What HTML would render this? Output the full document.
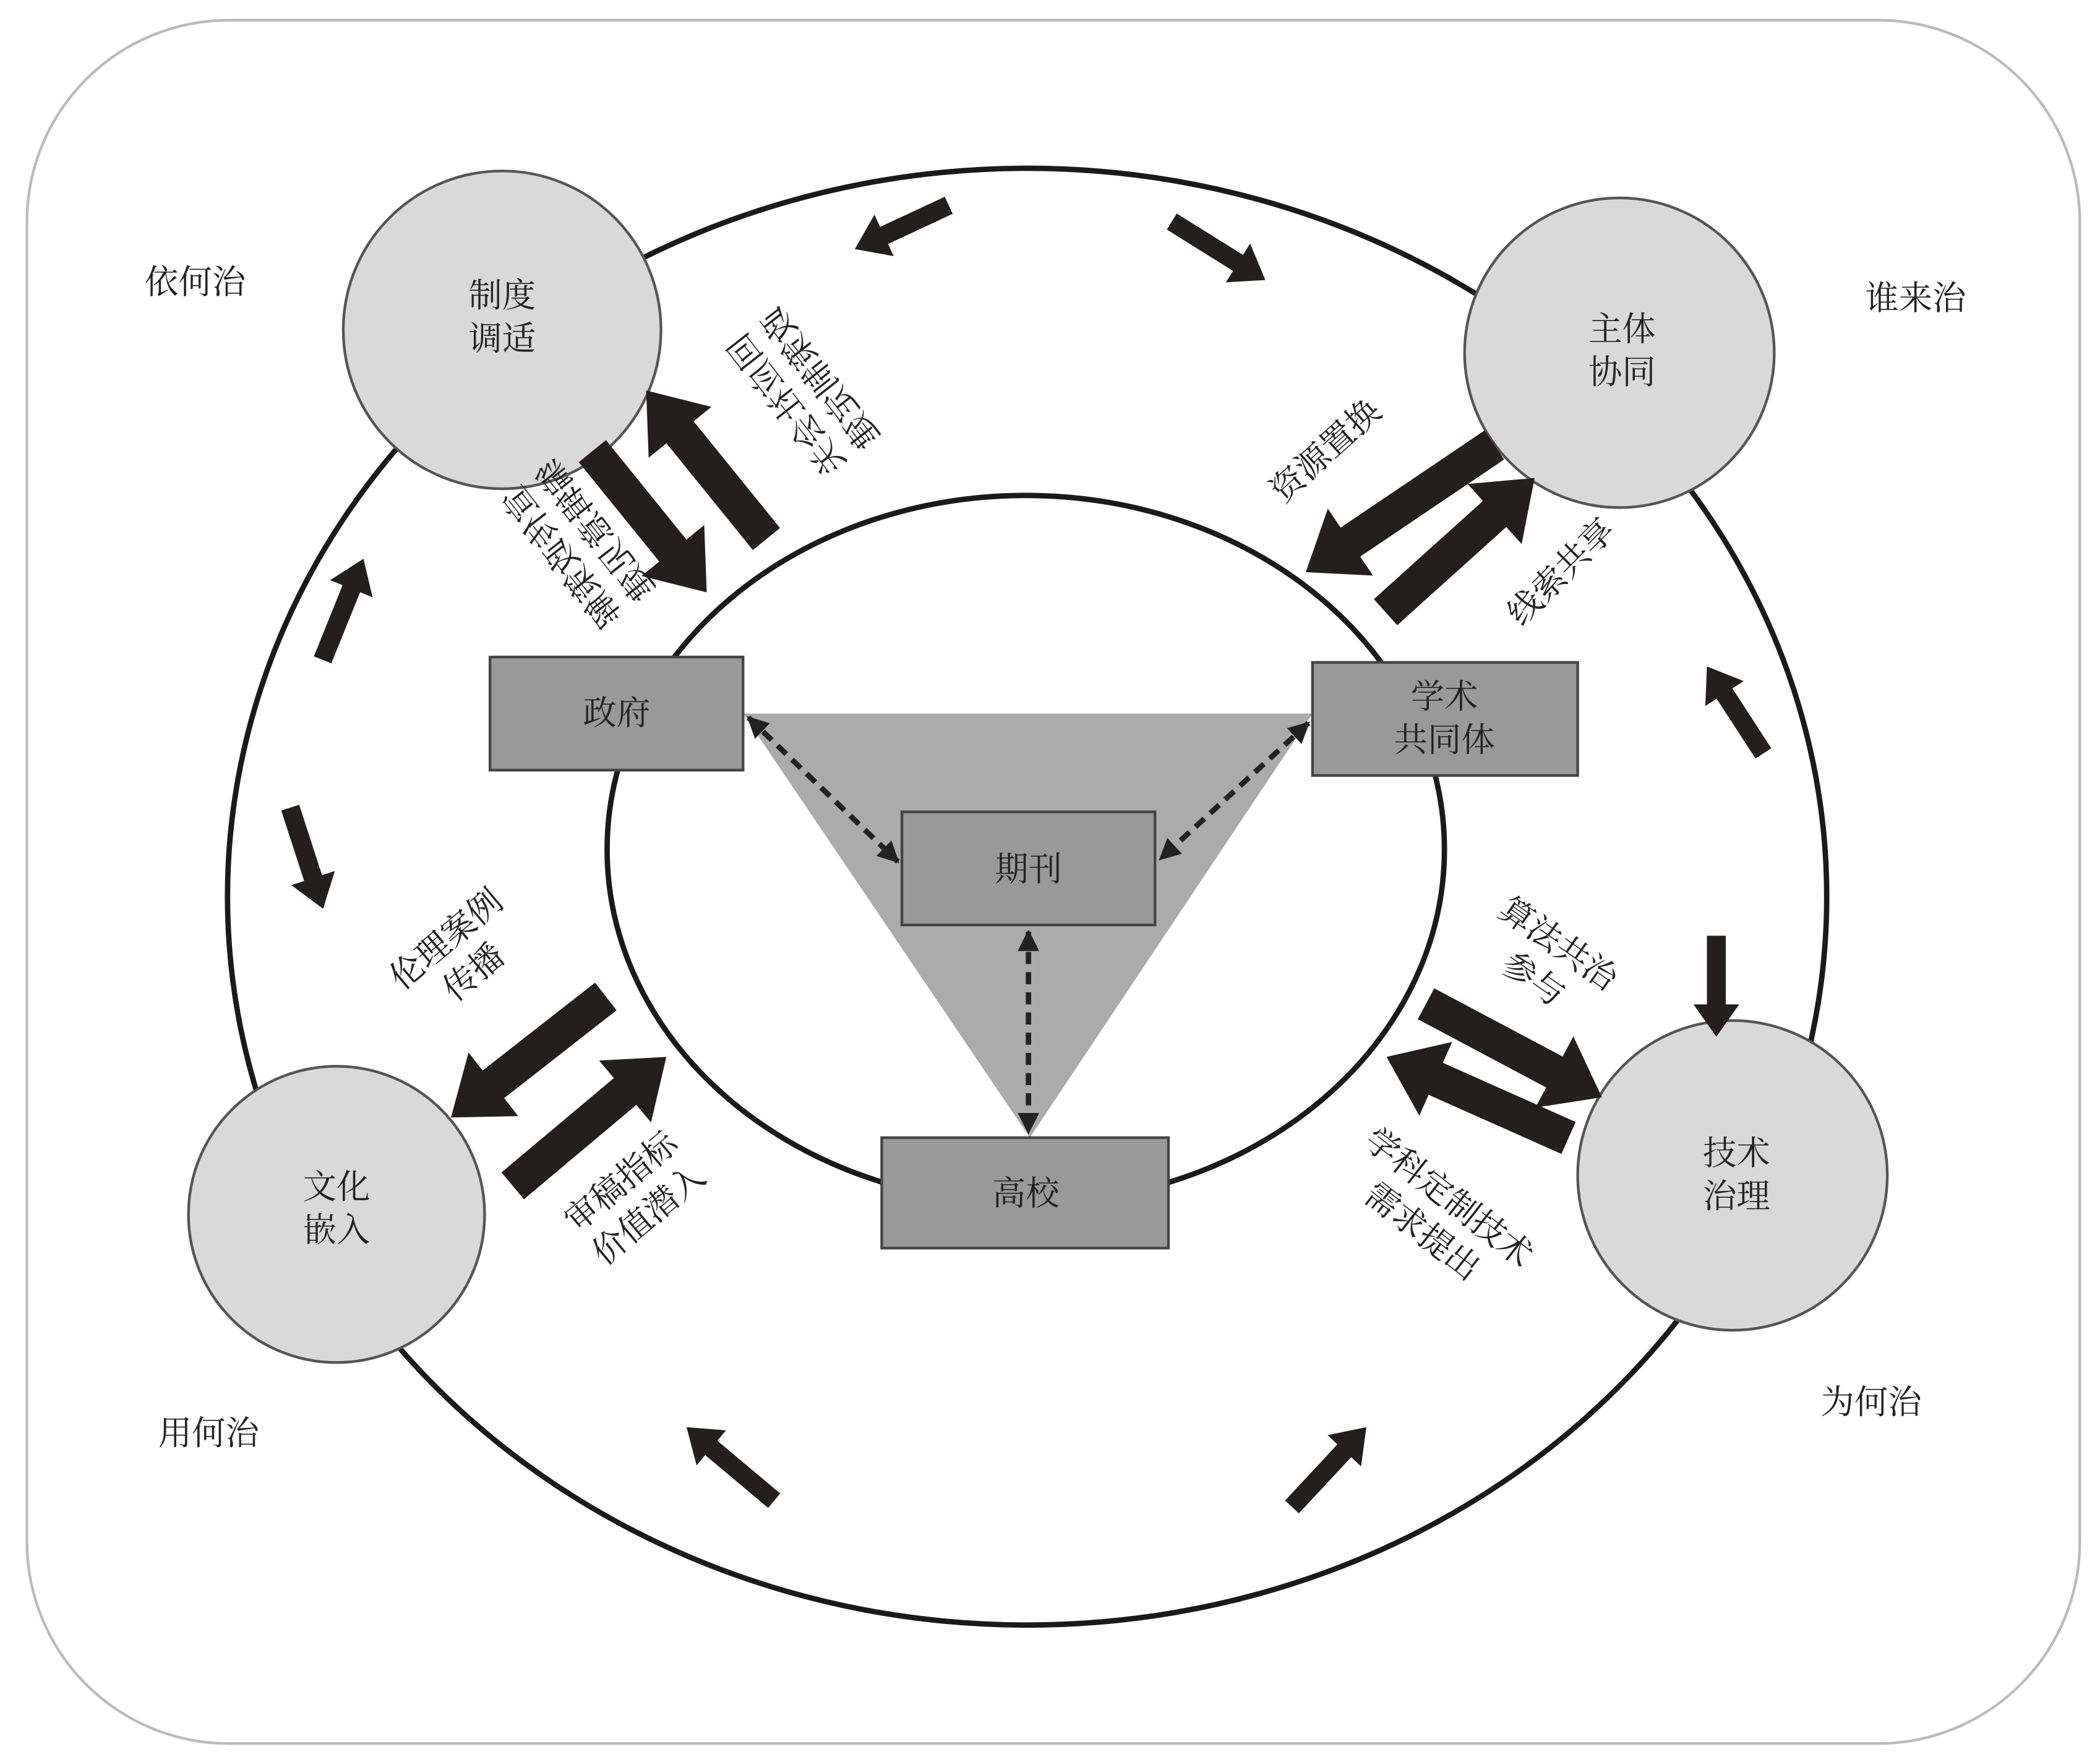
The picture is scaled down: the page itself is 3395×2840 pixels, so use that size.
<!DOCTYPE html>
<html><head><meta charset="utf-8"><style>
html,body{margin:0;padding:0;background:#fff;}
svg{display:block;}
text{font-family:"Liberation Serif","Noto Serif CJK SC",serif;font-size:25px;fill:#222;}
</style></head><body>
<svg width="3395" height="2840" viewBox="0 0 1560 1305" preserveAspectRatio="none" xmlns="http://www.w3.org/2000/svg">
<defs>
<marker id="ah" viewBox="0 0 10 10" refX="9" refY="5" markerWidth="4" markerHeight="4" orient="auto-start-reverse"><path d="M0,0 L10,5 L0,10 z" fill="#222"/></marker>
</defs>
<rect x="20" y="15" width="1525" height="1280" rx="150" ry="150" fill="#fff" stroke="#bbb" stroke-width="2"/>
<ellipse cx="763" cy="666" rx="594" ry="541" fill="none" stroke="#1a1a1a" stroke-width="4"/>
<ellipse cx="762" cy="631" rx="311" ry="263" fill="none" stroke="#1a1a1a" stroke-width="4"/>
<polygon points="552,530 975,530 765,845" fill="#ababab"/>
<circle cx="373" cy="245" r="118" fill="#d9d9d9" stroke="#555" stroke-width="2"/>
<circle cx="1203" cy="262" r="115" fill="#d9d9d9" stroke="#555" stroke-width="2"/>
<circle cx="250" cy="902" r="110" fill="#d9d9d9" stroke="#555" stroke-width="2"/>
<circle cx="1287" cy="873" r="115" fill="#d9d9d9" stroke="#555" stroke-width="2"/>
<text x="373" y="228" text-anchor="middle">制度</text><text x="373" y="260" text-anchor="middle">调适</text>
<text x="1205" y="253" text-anchor="middle">主体</text><text x="1205" y="285" text-anchor="middle">协同</text>
<text x="250" y="890" text-anchor="middle">文化</text><text x="250" y="922" text-anchor="middle">嵌入</text>
<text x="1290" y="865" text-anchor="middle">技术</text><text x="1290" y="897" text-anchor="middle">治理</text>
<rect x="364" y="488" width="188" height="84" fill="#999" stroke="#444" stroke-width="2"/>
<rect x="975" y="492" width="197" height="84" fill="#999" stroke="#444" stroke-width="2"/>
<rect x="670" y="603" width="188" height="84" fill="#999" stroke="#444" stroke-width="2"/>
<rect x="655" y="845" width="213" height="82" fill="#999" stroke="#444" stroke-width="2"/>
<text x="458" y="538" text-anchor="middle">政府</text>
<text x="1073" y="526" text-anchor="middle">学术</text><text x="1073" y="558" text-anchor="middle">共同体</text>
<text x="764" y="654" text-anchor="middle">期刊</text>
<text x="762" y="895" text-anchor="middle">高校</text>
<g stroke="#222" stroke-width="4" stroke-dasharray="9 6" fill="none">
<line x1="556" y1="533" x2="667" y2="640" marker-start="url(#ah)" marker-end="url(#ah)"/>
<line x1="972" y1="537" x2="862" y2="638" marker-start="url(#ah)" marker-end="url(#ah)"/>
<line x1="764" y1="692" x2="764" y2="841" marker-start="url(#ah)" marker-end="url(#ah)"/>
</g>
<text x="145" y="218" text-anchor="middle">依何治</text>
<text x="1423" y="230" text-anchor="middle">谁来治</text>
<text x="155" y="1073" text-anchor="middle">用何治</text>
<text x="1390" y="1050" text-anchor="middle">为何治</text>
<g fill="#231f1f">
<g transform="translate(525,440) rotate(51)"><polygon points="-135,-13 -40,-13 -40,-30 0,0 -40,30 -40,13 -135,13"/></g>
<g transform="translate(480,290) rotate(231)"><polygon points="-142,-13 -40,-13 -40,-30 0,0 -40,30 -40,13 -142,13"/></g>
<g transform="translate(970,425) rotate(146)"><polygon points="-169,-13 -40,-13 -40,-30 0,0 -40,30 -40,13 -169,13"/></g>
<g transform="translate(1140,355) rotate(-42)"><polygon points="-149,-13 -40,-13 -40,-30 0,0 -40,30 -40,13 -149,13"/></g>
<g transform="translate(335,830) rotate(142)"><polygon points="-146,-13 -40,-13 -40,-30 0,0 -40,30 -40,13 -146,13"/></g>
<g transform="translate(495,785) rotate(-40)"><polygon points="-149,-13 -40,-13 -40,-30 0,0 -40,30 -40,13 -149,13"/></g>
<g transform="translate(1190,815) rotate(28)"><polygon points="-148,-13 -40,-13 -40,-30 0,0 -40,30 -40,13 -148,13"/></g>
<g transform="translate(1030,785) rotate(204)"><polygon points="-148,-13 -40,-13 -40,-30 0,0 -40,30 -40,13 -148,13"/></g>
<g transform="translate(635,185) rotate(155)"><polygon points="-77,-7 -24,-7 -24,-17 0,0 -24,17 -24,7 -77,7"/></g>
<g transform="translate(940,208) rotate(32)"><polygon points="-82,-7 -24,-7 -24,-17 0,0 -24,17 -24,7 -82,7"/></g>
<g transform="translate(1268,495) rotate(237)"><polygon points="-77,-7 -24,-7 -24,-17 0,0 -24,17 -24,7 -77,7"/></g>
<g transform="translate(1275,770) rotate(90)"><polygon points="-75,-7 -24,-7 -24,-17 0,0 -24,17 -24,7 -75,7"/></g>
<g transform="translate(1015,1060) rotate(-47)"><polygon points="-81,-7 -24,-7 -24,-17 0,0 -24,17 -24,7 -81,7"/></g>
<g transform="translate(510,1060) rotate(220)"><polygon points="-85,-7 -24,-7 -24,-17 0,0 -24,17 -24,7 -85,7"/></g>
<g transform="translate(240,675) rotate(72)"><polygon points="-79,-7 -24,-7 -24,-17 0,0 -24,17 -24,7 -79,7"/></g>
<g transform="translate(270,415) rotate(-68)"><polygon points="-81,-7 -24,-7 -24,-17 0,0 -24,17 -24,7 -81,7"/></g>
</g>
<g transform="translate(985,335) rotate(-42)"><text x="0" y="8" text-anchor="middle">资源置换</text></g>
<g transform="translate(1160,425) rotate(-45)"><text x="0" y="8" text-anchor="middle">线索共享</text></g>
<g transform="translate(340,708) rotate(-40)"><text x="0" y="-5" text-anchor="middle">伦理案例</text><text x="0" y="27" text-anchor="middle">传播</text></g>
<g transform="translate(470,888) rotate(-40)"><text x="0" y="-5" text-anchor="middle">审稿指标</text><text x="0" y="27" text-anchor="middle">价值潜入</text></g>
<g transform="translate(1150,712) rotate(35)"><text x="0" y="-5" text-anchor="middle">算法共治</text><text x="0" y="27" text-anchor="middle">参与</text></g>
<g transform="translate(1068,900) rotate(38)"><text x="0" y="-5" text-anchor="middle">学科定制技术</text><text x="0" y="27" text-anchor="middle">需求提出</text></g>
<g transform="translate(595,292) rotate(52) scale(1,-1)"><text x="0" y="-5" text-anchor="middle">回应社会关</text><text x="0" y="27" text-anchor="middle">政策制定建</text></g>
<g transform="translate(428,405) rotate(52) scale(1,-1)"><text x="0" y="-5" text-anchor="middle">宣传政策解</text><text x="0" y="27" text-anchor="middle">编辑意见建</text></g>
</svg>
</body></html>
